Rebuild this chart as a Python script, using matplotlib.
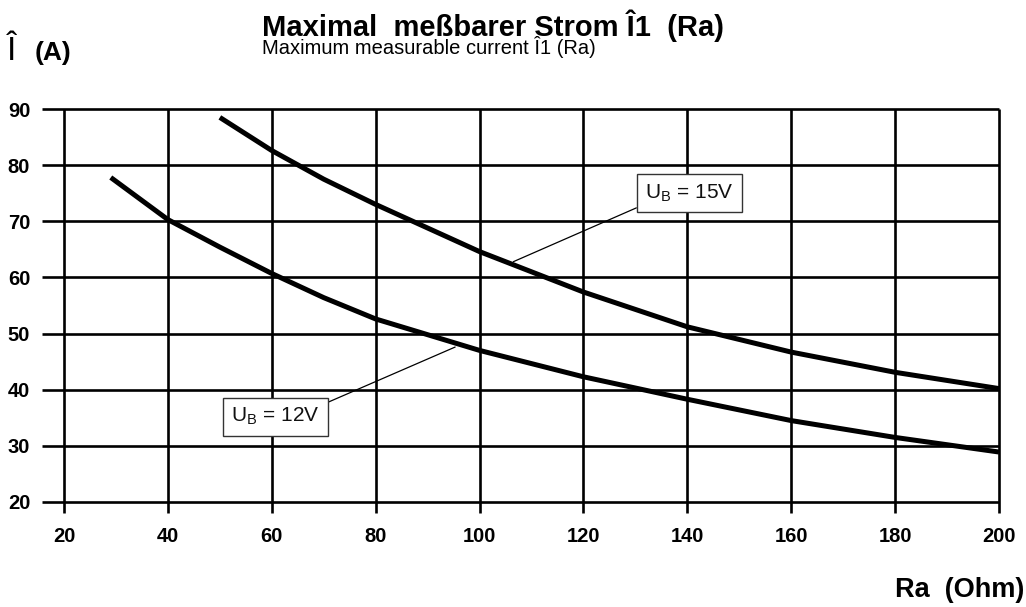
import matplotlib
matplotlib.use("Agg")
import matplotlib.pyplot as plt

# ========================
# Datos
# ========================

ra_ticks = [20, 40, 60, 80, 100, 120, 140, 160, 180, 200]
i_ticks = [20, 30, 40, 50, 60, 70, 80, 90]

# Curva U_B = 12V
ra_12v = [29, 40, 50, 60, 70, 80, 100, 120, 140, 160, 180, 200]
i_12v = [77.8, 70.3, 65.4, 60.7, 56.4, 52.6, 47.0, 42.3, 38.3, 34.5, 31.5, 28.9]

# Curva U_B = 15V
ra_15v = [50, 60, 70, 80, 100, 120, 140, 160, 180, 200]
i_15v = [88.5, 82.6, 77.5, 73.0, 64.6, 57.4, 51.2, 46.7, 43.1, 40.2]

# Etiquetas: texto, posición de la caja, punto de la curva
etiqueta_15v = (r"U$_\mathrm{B}$ = 15V", (140.4, 75.0), (106.5, 62.8))
etiqueta_12v = (r"U$_\mathrm{B}$ = 12V", (60.7, 35.2), (95.3, 47.6))

# ========================
# Configuración
# ========================

plt.rcParams["font.family"] = ["Liberation Sans", "DejaVu Sans"]
plt.rcParams["mathtext.fontset"] = "custom"
plt.rcParams["mathtext.rm"] = "Liberation Sans"

X_MIN, X_MAX = 15.76, 200
Y_MIN, Y_MAX = 18.04, 90

fig = plt.figure(figsize=(10.26, 6.07), dpi=100)
ax = fig.add_axes([42 / 1026, 1 - 513 / 607, 957 / 1026, 404 / 607])
ax.set_xlim(X_MIN, X_MAX)
ax.set_ylim(Y_MIN, Y_MAX)

# Rejilla dibujada a mano (las líneas sobresalen del área de datos)
ax.hlines(i_ticks, X_MIN, X_MAX, color="black", lw=1.9, clip_on=False, zorder=1)
ax.vlines(ra_ticks, Y_MIN, Y_MAX, color="black", lw=1.9, clip_on=False, zorder=1)

# Curvas
ax.plot(ra_12v, i_12v, color="black", lw=3.6, solid_capstyle="butt",
        solid_joinstyle="round", clip_on=False, zorder=3)
ax.plot(ra_15v, i_15v, color="black", lw=3.6, solid_capstyle="butt",
        solid_joinstyle="round", clip_on=False, zorder=3)

# Cajas con línea de referencia
for (texto, pos_caja, punto), rel in ((etiqueta_15v, (0, 0)), (etiqueta_12v, (1, 1))):
    ax.annotate(texto, xy=punto, xytext=pos_caja, ha="center", va="center",
                fontsize=15, color="#111111",
                bbox=dict(boxstyle="square,pad=0.4", fc="white", ec="#333333", lw=1),
                arrowprops=dict(arrowstyle="-", color="black", lw=0.9,
                                shrinkA=0, shrinkB=0, relpos=rel),
                zorder=4)

# Ejes
for s in ax.spines.values():
    s.set_visible(False)
ax.set_xticks(ra_ticks)
ax.set_yticks(i_ticks)
ax.set_xticklabels([str(v) for v in ra_ticks], fontsize=14.5, fontweight="bold")
ax.set_yticklabels([str(v) for v in i_ticks], fontsize=14.5, fontweight="bold")
ax.tick_params(axis="x", length=0, pad=10)
ax.tick_params(axis="y", length=0, pad=8.5)

# Textos
fig.text(262 / 1026, 1 - 36.5 / 607, "Maximal  meßbarer Strom Î1  (Ra)",
         fontsize=21, fontweight="bold", va="baseline", ha="left")
fig.text(262 / 1026, 1 - 54.5 / 607, "Maximum measurable current Î1 (Ra)",
         fontsize=14.5, va="baseline", ha="left")
fig.text(7 / 1026, 1 - 60 / 607, "Î", fontsize=24, va="baseline", ha="left")
fig.text(35 / 1026, 1 - 60 / 607, "(A)", fontsize=19, fontweight="bold",
         va="baseline", ha="left")
fig.text(1024 / 1026, 1 - 597 / 607, "Ra  (Ohm)", fontsize=19.5, fontweight="bold",
         va="baseline", ha="right")

fig.savefig("out.png", dpi=100)
